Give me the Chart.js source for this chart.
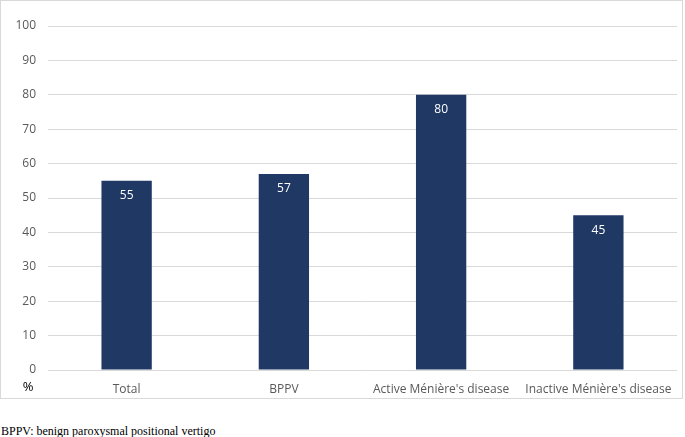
<!DOCTYPE html>
<html><head><meta charset="utf-8">
<script src="https://cdn.jsdelivr.net/npm/chart.js@4/dist/chart.umd.min.js"></script>
<style>
html,body{margin:0;padding:0;background:#fff;}
#frame{position:absolute;left:0;top:0;width:681px;height:397px;border:1px solid #d9d9d9;}
#note{position:absolute;left:1px;top:424px;font-family:"Liberation Serif","DejaVu Serif",serif;font-size:12px;color:#000;}
</style></head><body>
<div id="frame"><canvas id="c" width="681" height="397"></canvas></div>
<div id="note">BPPV: benign paroxysmal positional vertigo</div>
<script>
const categories = ["Total", "BPPV", "Active Ménière's disease", "Inactive Ménière's disease"];
const values = [55, 57, 80, 45];
const yTicks = [0, 10, 20, 30, 40, 50, 60, 70, 80, 90, 100];
const yAxisLabel = "%";
const font = '"Open Sans","Noto Sans",sans-serif';

const labelsPlugin = {
  id: 'vlabels',
  afterDatasetsDraw(chart) {
    const ctx = chart.ctx;
    const meta = chart.getDatasetMeta(0);
    ctx.save();
    ctx.fillStyle = '#ffffff';
    ctx.font = '12px ' + font;
    ctx.textAlign = 'center';
    ctx.textBaseline = 'middle';
    meta.data.forEach((bar, i) => {
      ctx.fillText(String(values[i]), bar.x, bar.y + 15);
    });
    // % label
    ctx.fillStyle = '#000';
    ctx.font = '13px ' + font;
    ctx.fillText(yAxisLabel, chart.chartArea.left - 20, chart.chartArea.bottom + 17);
    ctx.restore();
  }
};

new Chart(document.getElementById('c'), {
  type: 'bar',
  data: {
    labels: categories,
    datasets: [{ data: values, backgroundColor: '#203864', barPercentage: 0.32, categoryPercentage: 1 }]
  },
  options: {
    responsive: false,
    animation: false,
    layout: { padding: { top: 25, right: 5, bottom: 0, left: 0 } },
    plugins: { legend: { display: false }, tooltip: { enabled: false } },
    scales: {
      x: {
        grid: { display: false },
        border: { display: false },
        ticks: { color: '#595959', font: { size: 12, family: font }, padding: 4, maxRotation: 0 },
        afterFit(s) { s.height = 28; }
      },
      y: {
        min: 0, max: 100,
        afterBuildTicks(s) { s.ticks = yTicks.map(v => ({ value: v })); },
        grid: { color: '#d9d9d9', drawTicks: false },
        border: { display: false },
        ticks: { color: '#595959', font: { size: 12, family: font }, padding: 12 },
        afterFit(s) { s.width = 47; }
      }
    }
  },
  plugins: [labelsPlugin]
});
</script>
</body></html>
